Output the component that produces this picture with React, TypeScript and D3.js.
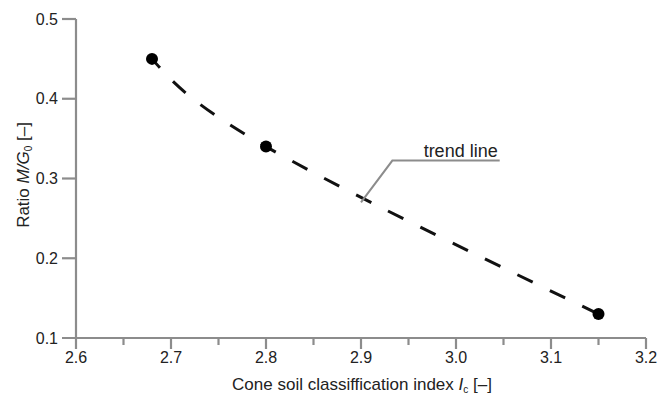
import { useEffect, useRef } from "react"
import * as d3 from "d3"

const icValues = [2.68, 2.8, 3.15]
const ratioValues = [0.45, 0.34, 0.13]
const xMajorTicks = [2.6, 2.7, 2.8, 2.9, 3.0, 3.1, 3.2]
const xMinorTicks = [2.65, 2.75, 2.85, 2.95, 3.05, 3.15]
const yTicks = [0.1, 0.2, 0.3, 0.4, 0.5]
// leader of the "trend line" label, in data units: tip, elbow, end
const leaderX = [2.9, 2.933, 3.046]
const leaderY = [0.27, 0.3225, 0.3225]

export default function App() {
  const svgRef = useRef<SVGSVGElement>(null)

  useEffect(() => {
    if (!svgRef.current) return
    const width = 670
    const height = 398
    const axisColor = "#8c8c8c"
    const textColor = "#222"
    const font = "'Liberation Sans', Arial, sans-serif"

    const svg = d3.select(svgRef.current).attr("width", width).attr("height", height)
    svg.selectAll("*").remove()

    const x = d3.scaleLinear().domain([2.6, 3.2]).range([76, 646])
    const y = d3.scaleLinear().domain([0.1, 0.5]).range([338, 19])

    const [x0, x1] = x.range()
    const [y0, y1] = y.range()

    // axes
    svg.append("line")
      .attr("x1", x0).attr("x2", x0).attr("y1", y1).attr("y2", y0 + 11)
      .attr("stroke", axisColor).attr("stroke-width", 2.2)
    svg.append("line")
      .attr("x1", x0 - 14).attr("x2", x1).attr("y1", y0).attr("y2", y0)
      .attr("stroke", axisColor).attr("stroke-width", 2.2)

    svg.selectAll(".ytick")
      .data(yTicks.slice(1))
      .enter()
      .append("line")
      .attr("x1", x0 - 14).attr("x2", x0)
      .attr("y1", (d) => y(d)).attr("y2", (d) => y(d))
      .attr("stroke", axisColor).attr("stroke-width", 2.2)

    svg.selectAll(".ylabel")
      .data(yTicks)
      .enter()
      .append("text")
      .attr("x", x0 - 18)
      .attr("y", (d) => y(d))
      .attr("dy", "0.35em")
      .attr("text-anchor", "end")
      .attr("font-family", font)
      .attr("font-size", 16)
      .attr("fill", textColor)
      .text((d) => d.toFixed(1))

    svg.selectAll(".xtick")
      .data(xMajorTicks.slice(1))
      .enter()
      .append("line")
      .attr("x1", (d) => x(d)).attr("x2", (d) => x(d))
      .attr("y1", y0).attr("y2", y0 + 11)
      .attr("stroke", axisColor).attr("stroke-width", 2.2)

    svg.selectAll(".xminor")
      .data(xMinorTicks)
      .enter()
      .append("line")
      .attr("x1", (d) => x(d)).attr("x2", (d) => x(d))
      .attr("y1", y0).attr("y2", y0 + 7)
      .attr("stroke", axisColor).attr("stroke-width", 2.2)

    svg.selectAll(".xlabel")
      .data(xMajorTicks)
      .enter()
      .append("text")
      .attr("x", (d) => x(d))
      .attr("y", y0 + 25)
      .attr("text-anchor", "middle")
      .attr("font-family", font)
      .attr("font-size", 16)
      .attr("fill", textColor)
      .text((d) => d.toFixed(1))

    // axis titles
    const xt = svg.append("text")
      .attr("x", 362).attr("y", 390)
      .attr("text-anchor", "middle")
      .attr("font-family", font).attr("font-size", 17).attr("fill", textColor)
    xt.append("tspan").text("Cone soil classiffication index ")
    xt.append("tspan").attr("font-style", "italic").text("I")
    xt.append("tspan").attr("font-size", 10).attr("dy", 3).text("c")
    xt.append("tspan").attr("dy", -3).text(" [–]")

    const yt = svg.append("text")
      .attr("transform", "translate(29,175) rotate(-90)")
      .attr("text-anchor", "middle")
      .attr("font-family", font).attr("font-size", 17).attr("fill", textColor)
    yt.append("tspan").text("Ratio ")
    yt.append("tspan").attr("font-style", "italic").text("M/G")
    yt.append("tspan").attr("font-size", 10).attr("dy", 3).text("0")
    yt.append("tspan").attr("dy", -3).text(" [–]")

    // trend line
    const pts = icValues.map((v, i) => [v, ratioValues[i]] as [number, number])
    const line = d3.line<[number, number]>()
      .x((d) => x(d[0]))
      .y((d) => y(d[1]))
      .curve(d3.curveNatural)

    svg.append("path")
      .datum(pts)
      .attr("d", line)
      .attr("fill", "none")
      .attr("stroke", "#111")
      .attr("stroke-width", 3)
      .attr("stroke-dasharray", "17,19")
      .attr("stroke-dashoffset", 5)

    svg.selectAll(".pt")
      .data(pts)
      .enter()
      .append("circle")
      .attr("cx", (d) => x(d[0]))
      .attr("cy", (d) => y(d[1]))
      .attr("r", 6)
      .attr("fill", "#000")

    // label leader
    const leader = leaderX.map((v, i) => [v, leaderY[i]] as [number, number])
    svg.append("path")
      .datum(leader)
      .attr("d", d3.line<[number, number]>().x((d) => x(d[0])).y((d) => y(d[1])))
      .attr("fill", "none")
      .attr("stroke", axisColor)
      .attr("stroke-width", 2)

    svg.append("text")
      .attr("x", x(leaderX[2]) - 2)
      .attr("y", y(leaderY[2]) - 4)
      .attr("text-anchor", "end")
      .attr("font-family", font).attr("font-size", 18).attr("fill", textColor)
      .text("trend line")
  }, [])

  return <svg ref={svgRef} style={{ position: "absolute", left: 0, top: 0, background: "#fff" }} />
}
